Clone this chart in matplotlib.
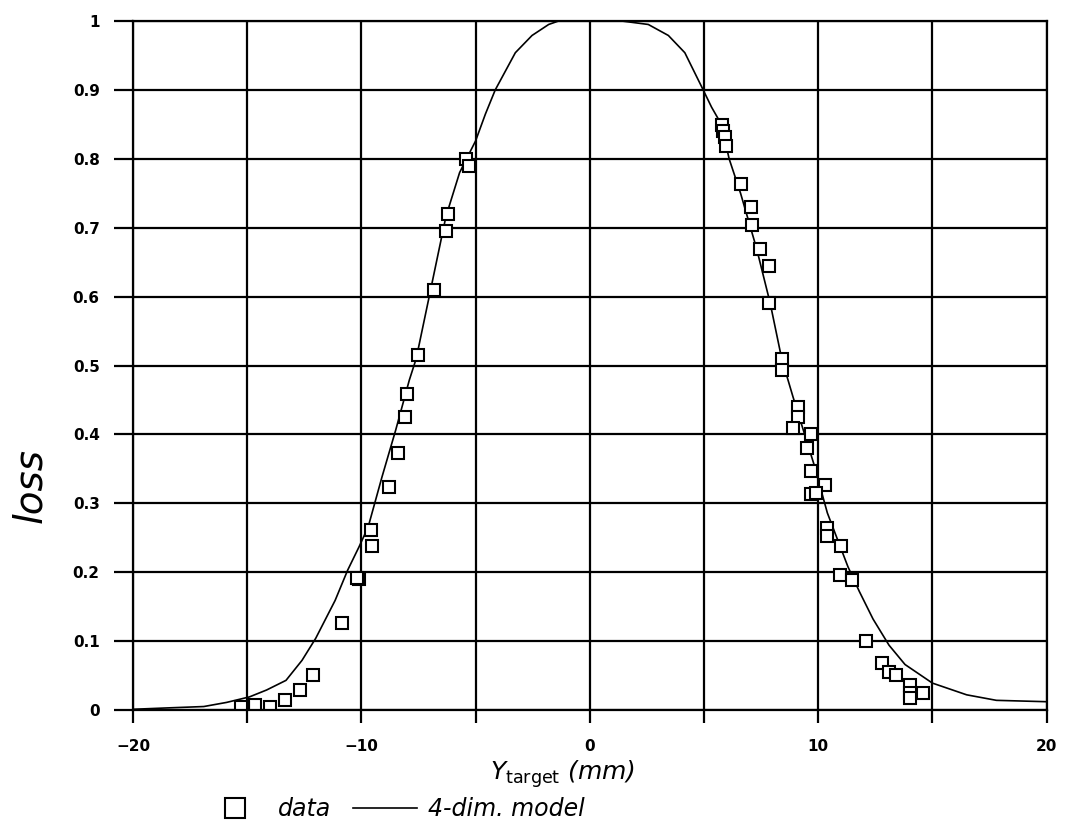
import numpy as np
import matplotlib
matplotlib.use("Agg")
import matplotlib.pyplot as plt

data_x = [-5.4, -5.3, -6.2, -6.3, -6.8, -7.5, -8.0, -8.1, -8.4, -8.8,
          -9.6, -9.55, -10.1, -10.2, -10.85, -12.1, -12.7, -13.35, -14.0, -14.65,
          -15.2, -15.25,
          5.8, 5.85, 5.9, 5.95, 6.6, 7.05, 7.1, 7.45, 7.85, 7.85,
          8.4, 8.4, 9.1, 9.1, 8.9, 9.7, 9.5, 9.7, 10.3, 9.7, 9.9,
          10.4, 10.4, 11.0, 10.95, 11.5, 12.1, 12.8, 13.1, 13.4,
          14.0, 14.0, 14.0, 14.6]
data_y = [0.800, 0.790, 0.720, 0.695, 0.610, 0.515, 0.459, 0.425, 0.373, 0.324,
          0.261, 0.238, 0.190, 0.192, 0.126, 0.051, 0.029, 0.014, 0.005, 0.007,
          0.003, 0.005,
          0.849, 0.840, 0.832, 0.819, 0.763, 0.730, 0.704, 0.669, 0.644, 0.590,
          0.510, 0.493, 0.440, 0.425, 0.410, 0.400, 0.380, 0.347, 0.327, 0.313, 0.315,
          0.264, 0.252, 0.238, 0.196, 0.189, 0.100, 0.068, 0.055, 0.051,
          0.036, 0.025, 0.017, 0.025]

# 4-dim model curve
model_x = [-20, -18.5, -16.9, -15.9, -14.9, -14.15, -13.3, -12.6, -12.0, -11.15,
           -10.6, -10.1, -9.7, -9.1, -8.5, -7.9, -7.6, -7.0, -6.3, -5.7,
           -5.0, -4.57, -4.14, -3.26, -2.53, -1.8, -1.37, 0.0, 1.4, 2.56,
           3.44, 4.16, 4.89, 5.33, 5.76, 6.1, 6.6, 7.3, 7.9, 8.4,
           8.9, 9.8, 10.4, 11.3, 11.8, 12.4, 13.1, 13.8, 15.0, 16.5,
           17.8, 20]
model_y = [0.001, 0.003, 0.005, 0.011, 0.019, 0.029, 0.043, 0.072, 0.104, 0.159,
           0.203, 0.237, 0.266, 0.338, 0.406, 0.479, 0.510, 0.605, 0.716, 0.780,
           0.826, 0.865, 0.900, 0.954, 0.979, 0.995, 1.0, 1.0, 1.0, 0.995,
           0.979, 0.954, 0.905, 0.875, 0.850, 0.800, 0.750, 0.670, 0.590, 0.510,
           0.454, 0.358, 0.286, 0.208, 0.172, 0.132, 0.094, 0.066, 0.039, 0.022,
           0.014, 0.012]

fig = plt.figure(figsize=(10.68, 8.34), dpi=100)
ax = fig.add_axes([0.1245, 0.1487, 0.8555, 0.8261])

line, = ax.plot(model_x, model_y, color="black", lw=1.2, label="4-dim. model")
pts, = ax.plot(data_x, data_y, ls="none", marker="s", ms=9, mfc="white",
               mec="black", mew=1.5, label="data")

ax.set_xlim(-20, 20)
ax.set_ylim(0, 1)
ax.set_xticks(np.arange(-20, 21, 5))
ax.set_xticklabels(["\u221220", "", "\u221210", "", "0", "", "10", "", "20"])
ax.set_yticks(np.arange(0, 1.01, 0.1))
ax.set_yticklabels(["0", "0.1", "0.2", "0.3", "0.4", "0.5", "0.6", "0.7", "0.8", "0.9", "1"])
ax.grid(True, color="black", lw=1.6)
for s in ax.spines.values():
    s.set_linewidth(1.6)
ax.tick_params(axis="y", length=14, width=1.6, pad=10, labelsize=11)
ax.tick_params(axis="x", length=9, width=1.6, pad=12, labelsize=11)
for lab in ax.get_xticklabels() + ax.get_yticklabels():
    lab.set_fontweight("bold")

fig.text(0.028, 0.418, "loss", rotation=90, fontsize=28, fontstyle="italic",
         ha="center", va="center")
fig.text(0.527, 0.072, r"$Y_{\mathrm{target}}$ (mm)", fontsize=18, fontstyle="italic",
         ha="center", va="center")
fig.legend([pts, line], ["data", "4-dim. model"], loc="center left",
           bbox_to_anchor=(0.17, 0.03), ncol=2, frameon=False,
           handlelength=2.7, handletextpad=0.5, columnspacing=0.9, markerscale=1.6,
           prop={"style": "italic", "size": 17})

fig.savefig("out.png", dpi=100)
